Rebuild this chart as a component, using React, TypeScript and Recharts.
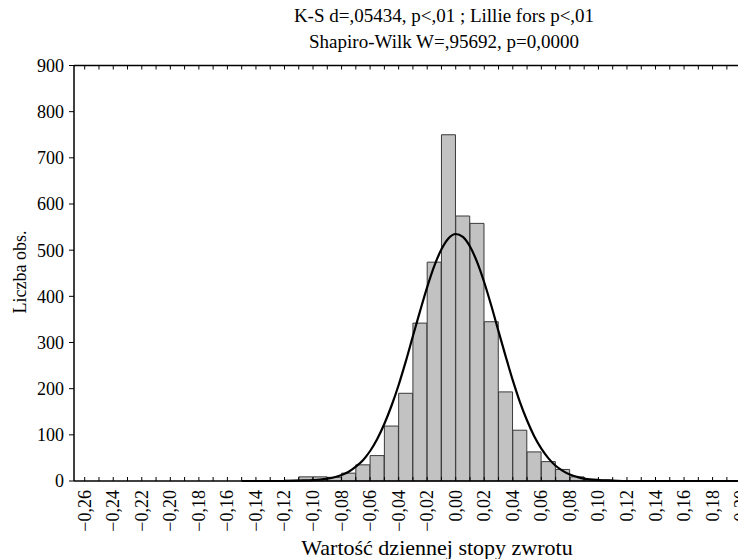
import React from 'react';
import { ComposedChart, Bar, Line, XAxis, YAxis } from 'recharts';

// histogram bins (centres, width 0,01) and counts
const binCenters = [
  -0.135, -0.125, -0.115, -0.105, -0.095, -0.085, -0.075, -0.065, -0.055, -0.045, -0.035, -0.025, -0.015,
  -0.005, 0.005, 0.015, 0.025, 0.035, 0.045, 0.055, 0.065, 0.075, 0.085, 0.095, 0.105, 0.115,
];
const counts = [1, 1, 2, 9, 9, 8, 17, 35, 55, 119, 190, 342, 474, 750, 574, 558, 345, 193, 110, 63, 42, 25, 9, 4, 2, 1];

// fitted normal curve
const curveX = [
  -0.15, -0.14, -0.13, -0.12, -0.11, -0.1, -0.095, -0.09, -0.085, -0.08, -0.075, -0.07, -0.065, -0.06, -0.055,
  -0.05, -0.045, -0.04, -0.035, -0.03, -0.025, -0.02, -0.015, -0.01, -0.005, 0, 0.005, 0.01, 0.015, 0.02, 0.025,
  0.03, 0.035, 0.04, 0.045, 0.05, 0.055, 0.06, 0.065, 0.07, 0.075, 0.08, 0.085, 0.09, 0.095, 0.1, 0.11, 0.12,
  0.14, 0.16, 0.18, 0.21,
];
const curveY = [
  0, 0, 0, 0, 1, 2, 3, 5, 8, 13, 20, 31, 45, 65, 91, 124, 163, 208, 259, 314, 368, 420, 466, 502, 526, 535, 529,
  508, 474, 430, 379, 324, 270, 218, 171, 131, 97, 70, 49, 33, 22, 14, 9, 5, 3, 2, 1, 0, 0, 0, 0, 0,
];

const xTickLabels = [
  '−0,26', '−0,24', '−0,22', '−0,20', '−0,18', '−0,16', '−0,14', '−0,12', '−0,10', '−0,08', '−0,06', '−0,04',
  '−0,02', '0,00', '0,02', '0,04', '0,06', '0,08', '0,10', '0,12', '0,14', '0,16', '0,18', '0,20',
];
const yTicks = [0, 100, 200, 300, 400, 500, 600, 700, 800, 900];

const FONT = '"Liberation Serif", "Times New Roman", serif';

const histData = binCenters.map((x, i) => ({ x, count: counts[i] }));
const curveData = curveX.map((x, i) => ({ x, fit: curveY[i] }));

const majorTicks = xTickLabels.map((s) => parseFloat(s.replace('−', '-').replace(',', '.')));
// small ticks every 0,01
const allTicks = majorTicks.flatMap((v) => [v, Math.round((v + 0.01) * 1000) / 1000]);

const BottomTick = (props: any) => {
  const { x, y, payload } = props;
  const idx = majorTicks.findIndex((t) => Math.abs(t - payload.value) < 1e-6);
  const ty = y + 9;
  return (
    <g>
      <line x1={x} y1={y} x2={x} y2={y - 4} stroke="#000" strokeWidth={1} />
      {idx >= 0 && (
        <text
          x={x}
          y={ty}
          transform={`rotate(-90 ${x} ${ty})`}
          textAnchor="end"
          dominantBaseline="central"
          fontSize={18}
          fontFamily={FONT}
          fill="#000"
        >
          {xTickLabels[idx]}
        </text>
      )}
    </g>
  );
};

const TopTick = (props: any) => {
  const { x, y } = props;
  return <line x1={x} y1={y} x2={x} y2={y + 4} stroke="#000" strokeWidth={1} />;
};

const titleStyle: React.CSSProperties = {
  position: 'absolute',
  left: 236,
  width: 400,
  textAlign: 'center',
  fontSize: 19,
  lineHeight: '20px',
  whiteSpace: 'nowrap',
};

const App: React.FC = () => {
  return (
    <div style={{ position: 'relative', width: 738, height: 551, fontFamily: FONT, color: '#000' }}>
      <div style={{ position: 'absolute', left: 0, top: 0, width: 738, height: 551, overflow: 'hidden' }}>
        <ComposedChart
          width={760}
          height={551}
          data={histData}
          margin={{ top: 56.5, right: 12.6, bottom: 0, left: 16 }}
          barCategoryGap={0}
          barGap={0}
        >
          <XAxis
            xAxisId="bottom"
            dataKey="x"
            type="number"
            domain={[-0.2675, 0.21]}
            allowDataOverflow
            ticks={allTicks}
            interval={0}
            height={78}
            tickSize={0}
            tickMargin={0}
            tickLine={false}
            tick={<BottomTick />}
            axisLine={{ stroke: '#000', strokeWidth: 1.5 }}
          />
          <XAxis
            xAxisId="top"
            orientation="top"
            dataKey="x"
            type="number"
            domain={[-0.2675, 0.21]}
            allowDataOverflow
            ticks={allTicks}
            interval={0}
            height={1}
            tickSize={0}
            tickMargin={0}
            tickLine={false}
            tick={<TopTick />}
            axisLine={{ stroke: '#000', strokeWidth: 1.5 }}
          />
          <YAxis
            type="number"
            domain={[0, 900]}
            ticks={yTicks}
            interval={0}
            width={50}
            tickSize={5}
            tickMargin={5}
            tickLine={{ stroke: '#000' }}
            axisLine={{ stroke: '#000', strokeWidth: 1.5 }}
            tick={{ fontSize: 18, fill: '#000', fontFamily: FONT }}
          />
          <Bar
            xAxisId="bottom"
            dataKey="count"
            fill="#c2c2c2"
            stroke="#3a3a3a"
            strokeWidth={1}
            isAnimationActive={false}
          />
          <Line
            xAxisId="top"
            data={curveData}
            dataKey="fit"
            type="monotone"
            stroke="#000"
            strokeWidth={2.2}
            dot={false}
            activeDot={false}
            isAnimationActive={false}
          />
        </ComposedChart>
      </div>

      <div style={{ ...titleStyle, top: -2 }}>K-S d=,05434, p&lt;,01 ; Lillie fors p&lt;,01</div>
      <div style={{ ...titleStyle, top: 24 }}>Shapiro-Wilk W=,95692, p=0,0000</div>
      <div
        style={{
          position: 'absolute',
          left: 12 - 100,
          top: 264 - 10,
          width: 200,
          height: 20,
          lineHeight: '20px',
          textAlign: 'center',
          fontSize: 18,
          transform: 'rotate(-90deg)',
        }}
      >
        Liczba obs.
      </div>
      <div style={{ position: 'absolute', left: 229, width: 400, top: 529, textAlign: 'center', fontSize: 22, lineHeight: '22px' }}>
        Wartość dziennej stopy zwrotu
      </div>
    </div>
  );
};

export default App;
